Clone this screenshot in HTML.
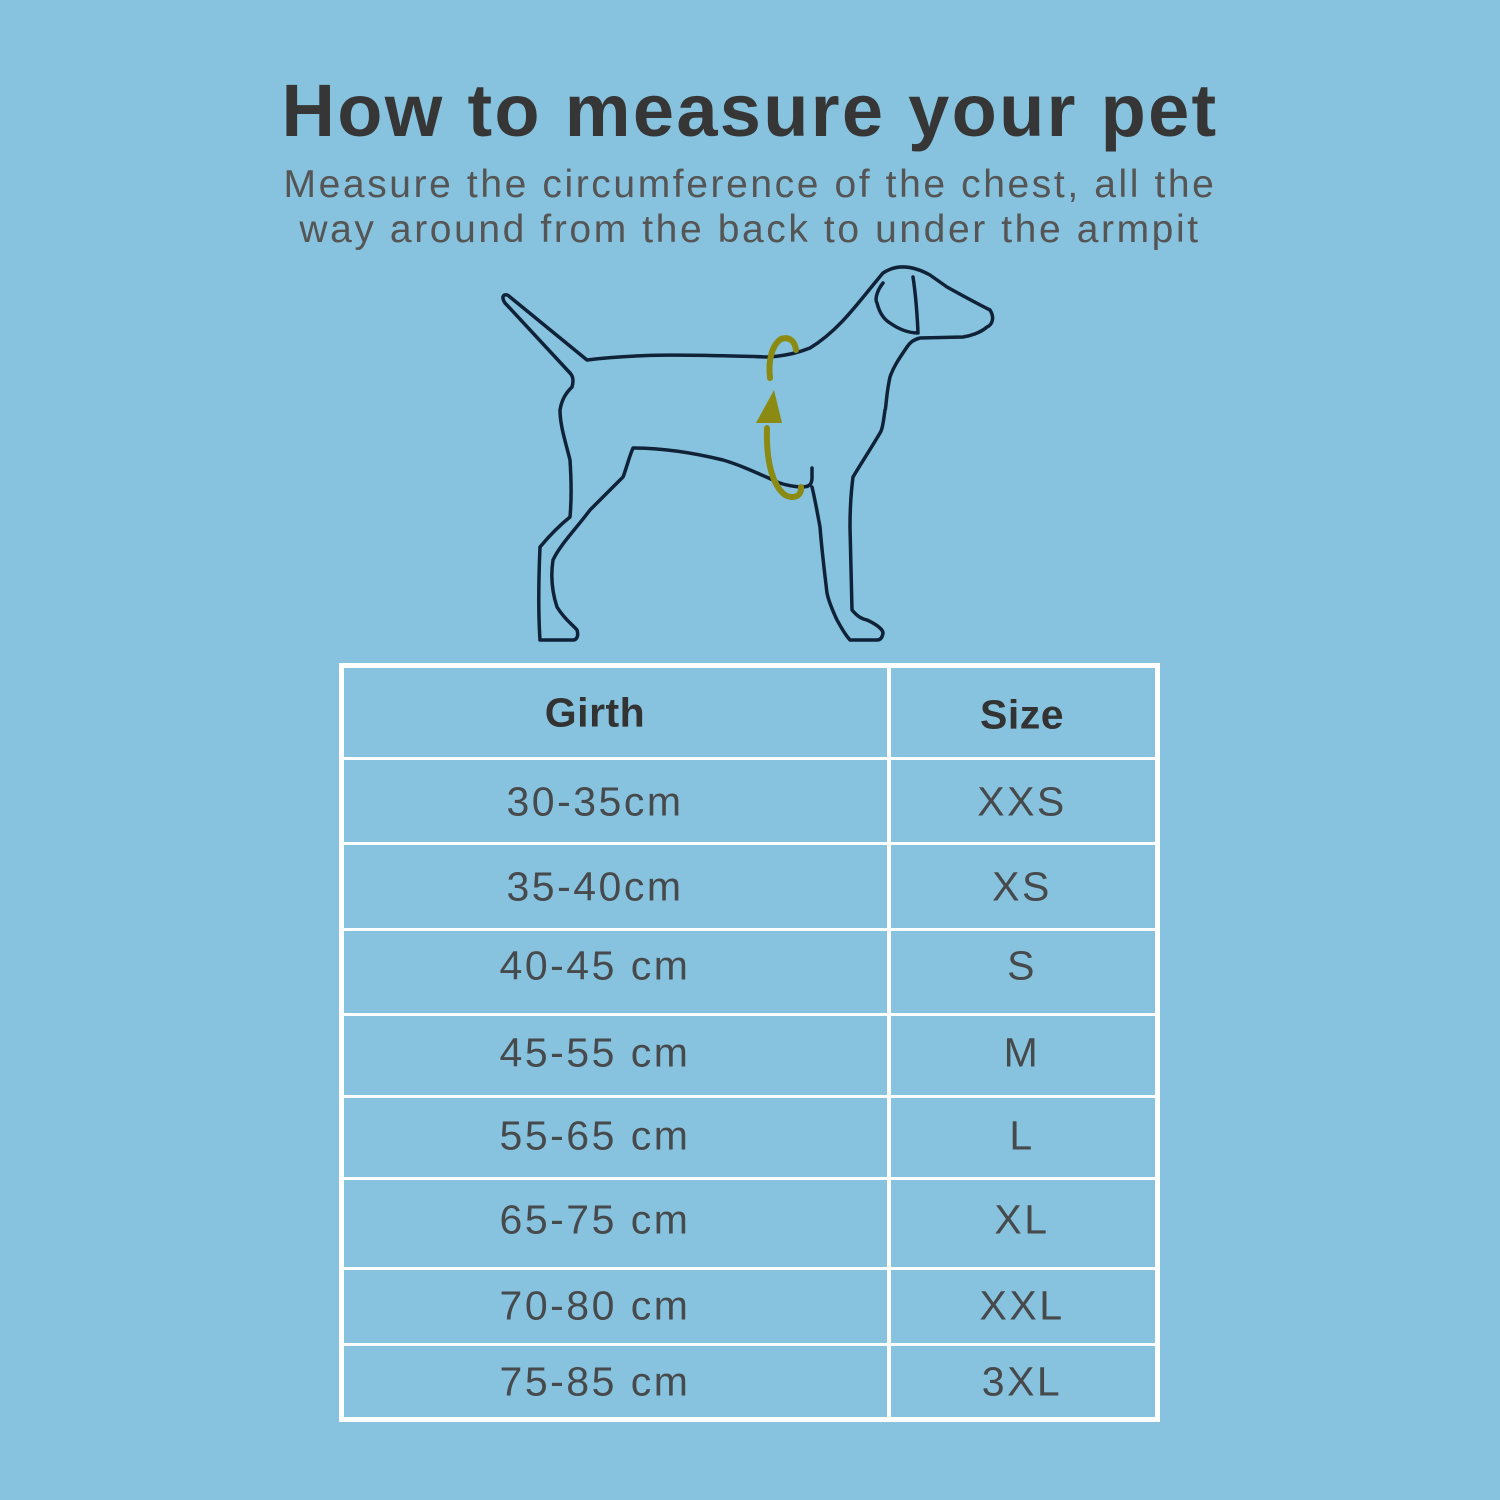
<!DOCTYPE html>
<html><head><style>
body{margin:0;width:1500px;height:1500px;background:#87c3de;position:relative;overflow:hidden;font-family:"Liberation Sans",sans-serif}
.t{position:absolute;left:0;width:1500px;text-align:center;white-space:nowrap}
.c{position:absolute;text-align:center;transform:translateY(-50%);font-size:41px;color:#474a4c;white-space:nowrap;letter-spacing:2.5px}
.a{left:344px;width:502px}.b{left:891px;width:262px}
.h{font-weight:bold;color:#333;letter-spacing:0.5px}
.ln{position:absolute;background:#fff}
</style></head><body>
<div class="t" style="top:68px;font-size:74px;font-weight:bold;color:#363636;letter-spacing:2.3px">How to measure your pet</div>
<div class="t" style="top:162px;font-size:39px;color:#555;line-height:45px;letter-spacing:2.6px">Measure the circumference of the chest, all the<br>way around from the back to under the armpit</div>
<svg width="1500" height="1500" style="position:absolute;left:0;top:0">
<g fill="none" stroke="#0f2238" stroke-width="3.5" stroke-linejoin="round" stroke-linecap="round">
<path d="M570,373 C573,376 574,380 572,387 C567,392 562,398 560,410 C560,425 565,440 570,460 C571,475 572,495 570,517 C560,525 550,535 540,547 C539,570 538,610 540,640 L573,640 C576,640 579,637 577,630 C572,624 565,620 557,607 C553,595 550,580 553,560 C560,545 575,530 590,510 C600,500 610,490 623,477 C626,470 628,460 633,448 C660,448 690,452 723,460 C740,465 755,472 773,480 C780,484 790,486 800,487 C806,487 812,487 812,478 L812,468"/>
<path d="M570,373 L505,303 C500,296 505,292 510,297 L587,360 C650,352 720,356 770,357 C790,355 800,352 810,348 C840,330 860,300 883,273 C895,265 910,264 930,275 L947,287 C965,297 980,305 990,310 C995,318 992,325 987,327 C980,333 970,336 963,337 L920,338 C912,340 909,344 907,347 C898,360 893,368 890,377 C886,395 886,410 885,410 C883,425 882,430 880,433 C870,450 860,465 853,477 C850,500 850,520 850,527 C851,570 852,600 852,610 C858,617 862,619 867,620 C878,625 883,630 883,633 C882,640 878,640 877,640 L850,640 C843,632 840,625 837,620 C830,605 828,598 827,593 C823,560 821,540 820,527 C816,505 814,495 812,487"/>
<path d="M883,283 C876,292 875,300 877,303 C880,315 885,320 890,323 C900,330 910,333 918,333 C917,310 915,290 913,277"/>
</g>
<path d="M770,378 C768,360 772,345 781,339 C790,336 795,342 796,350" fill="none" stroke="#8b8a12" stroke-width="6" stroke-linecap="round"/>
<path d="M774,390 L756,423 L782,423 Z" fill="#8b8a12"/>
<path d="M767,428 C766,460 772,485 785,495 C795,500 802,495 801,487" fill="none" stroke="#8b8a12" stroke-width="6" stroke-linecap="round"/>
</svg>
<div class="ln" style="left:339px;top:663px;width:821px;height:5px"></div>
<div class="ln" style="left:339px;top:1417px;width:821px;height:5px"></div>
<div class="ln" style="left:339px;top:663px;width:5px;height:759px"></div>
<div class="ln" style="left:1155px;top:663px;width:5px;height:759px"></div>
<div class="ln" style="left:887px;top:663px;width:4px;height:759px"></div>
<div class="ln" style="left:339px;top:757px;width:821px;height:3px"></div>
<div class="ln" style="left:339px;top:842px;width:821px;height:3px"></div>
<div class="ln" style="left:339px;top:928px;width:821px;height:3px"></div>
<div class="ln" style="left:339px;top:1013px;width:821px;height:3px"></div>
<div class="ln" style="left:339px;top:1095px;width:821px;height:3px"></div>
<div class="ln" style="left:339px;top:1177px;width:821px;height:3px"></div>
<div class="ln" style="left:339px;top:1267px;width:821px;height:3px"></div>
<div class="ln" style="left:339px;top:1343px;width:821px;height:3px"></div>
<div class="c a h" style="top:713px">Girth</div><div class="c b h" style="top:715px">Size</div>
<div class="c a" style="top:802px">30-35cm</div><div class="c b" style="top:802px">XXS</div>
<div class="c a" style="top:887px">35-40cm</div><div class="c b" style="top:887px">XS</div>
<div class="c a" style="top:966px">40-45 cm</div><div class="c b" style="top:966px">S</div>
<div class="c a" style="top:1053px">45-55 cm</div><div class="c b" style="top:1053px">M</div>
<div class="c a" style="top:1136px">55-65 cm</div><div class="c b" style="top:1136px">L</div>
<div class="c a" style="top:1220px">65-75 cm</div><div class="c b" style="top:1220px">XL</div>
<div class="c a" style="top:1306px">70-80 cm</div><div class="c b" style="top:1306px">XXL</div>
<div class="c a" style="top:1382px">75-85 cm</div><div class="c b" style="top:1382px">3XL</div>
</body></html>
